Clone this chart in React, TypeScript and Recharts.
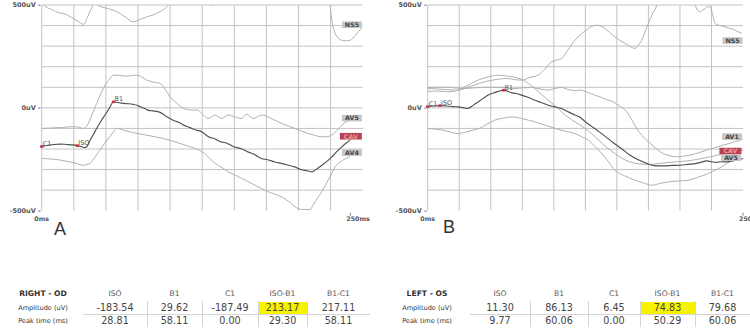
import React from 'react';
import { LineChart, Line, XAxis, YAxis, ReferenceLine, ReferenceDot } from 'recharts';

type Pt = [number, number];

// ---- Right eye (A), ms / uV ----
const A_CAV: Pt[] = [
  [0, -187], [5, -182], [10, -178], [15, -176], [20, -178], [25, -180], [28.81, -183.5], [32, -188], [35, -193],
  [37, -185], [39, -160], [42, -128], [44.5, -100], [48, -65], [51.3, -35], [55, 0], [58.11, 29.6], [62, 26],
  [66, 22], [70, 20], [74, 17], [77, 13], [80, 5], [83, -2], [86, -11], [90, -15], [93, -17], [96, -22],
  [100, -38], [104, -52], [108, -64], [111, -70], [115, -84], [120, -96], [125, -108], [128, -112], [131, -122],
  [135, -141], [140, -150], [145, -165], [150, -172], [156, -190], [160, -196], [164, -205], [167, -214],
  [172, -226], [178, -246], [183, -252], [189, -263], [194, -270], [200, -279], [205, -287], [210, -300],
  [215, -306], [219, -311], [223, -296], [227, -279], [231, -260], [235, -238], [239, -213], [243, -190],
  [247, -170], [250, -157],
];
const A_NS5: Pt[] = [
  [0, 520], [2, 498], [8, 478], [14, 462], [18, 458], [24, 440], [30, 418], [34, 406], [37, 440], [40, 480],
  [43, 508], [47, 494], [54, 482], [61, 467], [68, 440], [74, 418], [78, 425], [82, 435], [86, 444], [90, 451],
  [94, 462], [98, 475], [102, 496], [106, 540], [112, 600], [130, 600], [135, 520], [137.5, 498], [140, 520],
  [145, 600], [225, 600], [232, 540], [233.5, 500], [235, 426], [237.6, 363], [240, 340], [243, 329],
  [246, 326], [250, 329], [254, 353], [259, 387],
];
const A_AV5: Pt[] = [
  [0, -100], [8, -98], [17.5, -95], [23, -92], [28.3, -92], [33.7, -100], [37.7, -76], [41, -30], [44.5, 21],
  [48, 70], [51.3, 110], [55, 140], [58, 159], [63, 158], [68.8, 154], [73, 157], [77, 159], [81, 150], [85, 135],
  [90, 126], [95.8, 119], [100, 90], [104, 53], [109, 25], [114.7, -3], [118, -8], [122.8, -11], [126, -10],
  [129.6, -27], [135, -52], [140.4, -35], [145.8, -52], [151, -35], [156.6, -44], [162, -52], [166, -31],
  [171.4, -52], [178, -35], [186, -52], [194.4, -76], [205, -100], [216, -125], [222, -135], [226.8, -141],
  [231, -140], [234.9, -133], [239, -110], [243, -84], [249.7, -60],
];
const A_AV4: Pt[] = [
  [0, -246], [6, -248], [12, -251], [18, -257], [23, -263], [28, -270], [33.7, -279], [36, -276], [39, -270],
  [43, -240], [47, -206], [51, -172], [55, -141], [58, -118], [60.7, -100], [66, -108], [71.5, -117], [78, -125],
  [85, -133], [92, -141], [98.5, -149], [105, -160], [112, -173], [118, -185], [124, -197], [132, -222],
  [136, -246], [140.4, -270], [146, -290], [151, -311], [156, -325], [162, -343], [167, -358], [172.8, -376],
  [178, -392], [183.5, -408], [189, -420], [194.4, -433], [200, -455], [205.2, -481], [210.6, -494],
  [217.3, -494], [220, -470], [224, -433], [228, -395], [232, -352], [235, -318], [237.6, -287], [241, -268],
  [244, -254], [249.7, -238],
];

// ---- Left eye (B) ----
const B_CAV: Pt[] = [
  [0, 6.45], [5, 9], [9.77, 11.3], [15, 9], [20, 6], [24.3, 5], [28, 1], [32, -3], [36, 12], [40, 29], [44, 46],
  [48, 62], [53, 74], [56, 80], [60.06, 86.1], [66.6, 73], [70, 70], [74.5, 62], [80, 50], [85, 37], [90, 26],
  [95.6, 13], [100, 6], [106, -3], [111, -18], [116.8, -35], [120.8, -46], [124.7, -66], [130, -90], [134, -108],
  [140, -135], [147.2, -170], [154, -200], [160.5, -230], [167, -252], [173.6, -270], [177, -278], [181.6, -282],
  [188, -282], [194, -280], [200, -279], [206, -275], [213, -270], [217, -264], [221, -258], [225, -262],
  [229, -265], [233, -262], [237, -263], [241, -258], [245, -254], [250, -246],
];
const B_NS5: Pt[] = [
  [0, 94], [8, 92], [16, 88], [24, 86], [32, 100], [41, 119], [46, 128], [51.5, 135], [57, 140], [62.7, 143],
  [68, 138], [74.5, 135], [81, 148], [87.7, 159], [93, 190], [98.3, 224], [102, 232], [106.3, 240], [111, 280],
  [116.8, 329], [122, 360], [127.4, 386], [134, 402], [137, 398], [140.6, 386], [144, 368], [148.5, 345],
  [152, 330], [156.5, 313], [160, 300], [164.4, 289], [167, 305], [169.7, 329], [172, 365], [175, 410],
  [178, 455], [181.6, 499], [184, 560], [208, 560], [212, 499], [214, 475], [216, 467], [218, 475], [220, 483],
  [222, 492], [224, 491], [226, 450], [228, 410], [232, 400], [235.7, 394], [240, 386], [243.6, 378],
  [246, 370], [249, 362],
];
const B_AV1: Pt[] = [
  [0, 99], [8, 100], [16, 100], [23, 96], [29.6, 94], [36, 97], [42.8, 99], [50, 100], [58.7, 99], [64, 96],
  [69, 94], [75, 97], [82.5, 99], [89, 92], [95.6, 86], [100, 93], [106, 99], [111, 90], [116.8, 83],
  [120.8, 86], [124.7, 80], [130, 68], [136.6, 53], [142, 40], [147, 29], [152, 10], [157.8, -19], [162, -60],
  [165.7, -100], [170, -135], [173.6, -157], [180, -192], [186.8, -222], [192, -233], [197.4, -238],
  [203, -235], [208, -230], [215, -218], [221, -206], [228, -193], [234.4, -181], [241, -170], [247.6, -157],
  [250, -152],
];
const B_AV2: Pt[] = [
  [0, 80], [8, 82], [16, 78], [24, 86], [32, 110], [40, 135], [48, 150], [55.7, 159], [62, 155], [68, 150],
  [74.5, 138], [80, 118], [85, 94], [90, 66], [95.6, 37], [100, 15], [106, -19], [111, -45], [116.8, -68],
  [124.7, -100], [130, -125], [136, -160], [142, -192], [148, -220], [154, -245], [160, -262], [167, -272],
  [175, -275], [182, -272], [190, -266], [198, -262], [206, -258], [214, -250], [222, -240], [230, -230],
  [238, -222], [244, -214], [250, -206],
];
const B_AV5: Pt[] = [
  [0, -100], [6, -104], [12, -108], [18, -118], [24, -125], [30, -118], [36, -108], [41, -100], [47, -80],
  [53, -60], [60, -50], [67, -44], [74.5, -52], [80, -60], [85, -68], [93, -84], [101, -100], [108, -112],
  [116.8, -125], [122, -140], [127.4, -157], [133, -190], [138, -222], [143, -260], [148.5, -303], [156, -330],
  [164.4, -352], [171, -365], [177.6, -376], [184, -368], [190.8, -360], [198, -356], [206.6, -352],
  [214, -338], [222.5, -319], [228, -303], [233, -287], [236, -275], [239.5, -262], [243, -256], [246, -250],
];

// ---- result tables ----
const COLS = ['ISO', 'B1', 'C1', 'ISO-B1', 'B1-C1'];
const RIGHT_AMP = ['-183.54', '29.62', '-187.49', '213.17', '217.11'];
const RIGHT_PEAK = ['28.81', '58.11', '0.00', '29.30', '58.11'];
const LEFT_AMP = ['11.30', '86.13', '6.45', '74.83', '79.68'];
const LEFT_PEAK = ['9.77', '60.06', '0.00', '50.29', '60.06'];

const GRID = '#c2c2c2';
const LIGHT = '#b0b0b0';
const DARK = '#505050';
const MARK = '#c0394a';
const FONT = '"DejaVu Sans", sans-serif';

const rows = (pts: Pt[]) => pts.map(([t, v]) => ({ t, v }));

const YTick = (props: any) => {
  const { x, y, payload } = props;
  return (
    <text x={x - 1} y={y + 2.3} textAnchor="end" fontSize={6.5} fontWeight={700} fill="#555" fontFamily={FONT}>
      {`${payload.value}uV -`}
    </text>
  );
};

const XTick = (props: any) => {
  const { x, y, payload } = props;
  const v = payload.value;
  return (
    <g>
      {v !== 0 && <line x1={x} x2={x} y1={y + 2} y2={y + 5} stroke="#666" strokeWidth={0.8} />}
      <text x={v === 0 ? x : x - 4} y={y + 10} textAnchor={v === 0 ? 'middle' : 'start'} fontSize={6.3}
        fontWeight={700} fill="#555" fontFamily={FONT}>
        {`${v}ms`}
      </text>
    </g>
  );
};

function Marker({ cx, cy, name }: any) {
  return (
    <g>
      <rect x={cx - 1.6} y={cy - 1.2} width={3.4} height={2.6} fill={MARK} />
      <text x={cx + 1} y={cy - 0.5} fontSize={6.5} fill="#555" fontFamily={FONT}>{name}</text>
    </g>
  );
}

function Tag({ cx, cy, name, w }: any) {
  const red = name === 'CAV';
  return (
    <g>
      <rect x={cx - w / 2} y={cy - 3.3} width={w} height={6.6} fill={red ? '#b8424f' : '#c6c6c6'} />
      <text x={cx} y={cy + 2.3} textAnchor="middle" fontSize={6.3} fontWeight={700}
        fill={red ? '#e49aa4' : '#444'} fontFamily={FONT}>{name}</text>
    </g>
  );
}

function Panel({ left, yWidth, rightMargin, xMax, step, light, dark, marks, tags, tagW }: any) {
  const vLines = Array.from({ length: 10 }, (_, i) => i * step);
  const hLines = [500, 400, 300, 200, 100, 0, -100, -200, -300, -400];
  return (
    <div style={{ position: 'absolute', left, top: 0 }}>
      <LineChart width={375} height={240} margin={{ top: 5, right: rightMargin, bottom: 17.3, left: 0 }}>
        <XAxis type="number" dataKey="t" domain={[0, xMax]} ticks={[0, 250]} interval={0} allowDataOverflow
          height={12} axisLine={false} tickLine={false} tickSize={0} tickMargin={0} tick={<XTick />} />
        <YAxis type="number" dataKey="v" domain={[-500, 500]} ticks={[500, 0, -500]} interval={0} allowDataOverflow
          width={yWidth} axisLine={false} tickLine={false} tickSize={0} tickMargin={0} tick={<YTick />} />
        {hLines.map((v) => <ReferenceLine key={'h' + v} y={v} stroke={GRID} strokeWidth={1} />)}
        {vLines.map((v) => <ReferenceLine key={'v' + v} x={v} stroke={GRID} strokeWidth={1} />)}
        {light.map((s: Pt[], i: number) => (
          <Line key={'l' + i} data={rows(s)} dataKey="v" type="monotone" stroke={LIGHT} strokeWidth={1}
            dot={false} isAnimationActive={false} />
        ))}
        <Line data={rows(dark)} dataKey="v" type="monotone" stroke={DARK} strokeWidth={1.15}
          dot={false} isAnimationActive={false} />
        {marks.map((m: any) => (
          <ReferenceDot key={m.name} x={m.t} y={m.v} r={2} ifOverflow="visible"
            shape={(p: any) => <Marker {...p} name={m.name} />} />
        ))}
        {tags.map((m: any) => (
          <ReferenceDot key={'t' + m.name} x={m.t} y={m.v} r={2} ifOverflow="visible"
            shape={(p: any) => <Tag {...p} name={m.name} w={m.name === 'CAV' ? tagW + 2 : tagW} />} />
        ))}
      </LineChart>
    </div>
  );
}

function Table({ title, labelX, bounds, amp, peak }: any) {
  const cell = (txt: string, l: number, r: number, y: number, size: number, extra: any = {}) => (
    <div key={txt + l + y} style={{
      position: 'absolute', left: l, width: r - l, top: y - 7, height: 14, lineHeight: '14px',
      textAlign: 'center', fontSize: size, fontFamily: FONT, color: '#444', ...extra,
    }}>{txt}</div>
  );
  const out: any[] = [];
  out.push(cell(title, labelX - 40, labelX + 40, 294, 7.6, { fontWeight: 700, color: '#333' }));
  out.push(cell('Amplitude (uV)', labelX - 40, labelX + 40, 307.7, 6.6, { color: '#333' }));
  out.push(cell('Peak time (ms)', labelX - 40, labelX + 40, 320.5, 6.6, { color: '#333' }));
  COLS.forEach((c, i) => {
    const l = bounds[i], r = bounds[i + 1];
    if (c === 'ISO-B1') {
      out.push(<div key={'y' + i} style={{ position: 'absolute', left: l, width: r - l, top: 302, height: 11.5, background: '#f6f200' }} />);
    }
    out.push(cell(c, l, r, 294, 7.6, { color: '#555' }));
    out.push(cell(amp[i], l, r, 307.7, 9.6));
    out.push(cell(peak[i], l, r, 320.5, 9.6));
    if (i > 0) {
      out.push(<div key={'s' + i} style={{ position: 'absolute', left: l, top: 301, width: 1, height: 26, background: '#d4d4d4' }} />);
    }
  });
  out.push(<div key="hl" style={{ position: 'absolute', left: bounds[0], width: bounds[5] - bounds[0], top: 313.5, height: 1, background: '#d4d4d4' }} />);
  return <>{out}</>;
}

export default function App() {
  const marksA = [
    { name: 'C1', t: Number(RIGHT_PEAK[2]), v: Number(RIGHT_AMP[2]) },
    { name: 'ISO', t: Number(RIGHT_PEAK[0]), v: Number(RIGHT_AMP[0]) },
    { name: 'B1', t: Number(RIGHT_PEAK[1]), v: Number(RIGHT_AMP[1]) },
  ];
  const marksB = [
    { name: 'C1', t: Number(LEFT_PEAK[2]), v: Number(LEFT_AMP[2]) },
    { name: 'ISO', t: Number(LEFT_PEAK[0]), v: Number(LEFT_AMP[0]) },
    { name: 'B1', t: Number(LEFT_PEAK[1]), v: Number(LEFT_AMP[1]) },
  ];
  const tagsA = [
    { name: 'NS5', t: 251.3, v: 404 }, { name: 'AV5', t: 251.3, v: -50 },
    { name: 'CAV', t: 250.4, v: -138 }, { name: 'AV4', t: 251.3, v: -218 },
  ];
  const tagsB = [
    { name: 'NS5', t: 241.7, v: 327 }, { name: 'AV1', t: 241.3, v: -140 },
    { name: 'CAV', t: 240, v: -210 }, { name: 'AV5', t: 240.5, v: -242 },
  ];
  return (
    <div style={{ position: 'fixed', left: 0, top: 0, width: 750, height: 328, background: '#fff', overflow: 'hidden' }}>
      <Panel left={0} yWidth={41.7} rightMargin={12.3} xMax={260} step={26}
        light={[A_NS5, A_AV5, A_AV4]} dark={A_CAV} marks={marksA} tags={tagsA} tagW={20} />
      <Panel left={375} yWidth={52.7} rightMargin={7} xMax={250} step={25}
        light={[B_NS5, B_AV1, B_AV2, B_AV5]} dark={B_CAV} marks={marksB} tags={tagsB} tagW={20} />
      <div style={{ position: 'absolute', left: 54, top: 219, fontSize: 18, fontFamily: '"Liberation Sans", Arial', color: '#333' }}>A</div>
      <div style={{ position: 'absolute', left: 443, top: 217, fontSize: 18, fontFamily: '"Liberation Sans", Arial', color: '#333' }}>B</div>
      <Table title="RIGHT - OD" labelX={43} bounds={[83, 147, 202, 258, 307, 370]} amp={RIGHT_AMP} peak={RIGHT_PEAK} />
      <Table title="LEFT - OS" labelX={427} bounds={[470, 530, 588, 640, 695, 750]} amp={LEFT_AMP} peak={LEFT_PEAK} />
    </div>
  );
}
